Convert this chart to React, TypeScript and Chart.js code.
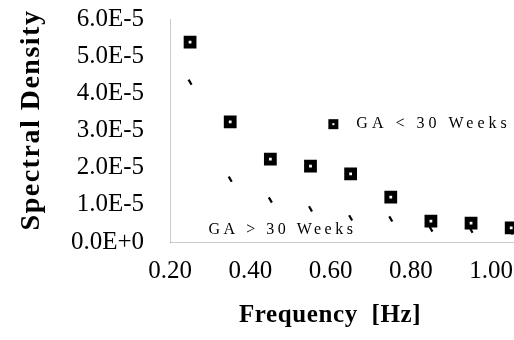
import { useEffect, useRef } from "react";
import { Chart, registerables } from "chart.js";

Chart.register(...registerables);

// Frequency bins [Hz]
const frequencies = [0.25, 0.35, 0.45, 0.55, 0.65, 0.75, 0.85, 0.95, 1.05];
// Spectral density, GA < 30 weeks
const gaUnder30 = [5.38e-5, 3.23e-5, 2.23e-5, 2.04e-5, 1.83e-5, 1.21e-5, 0.56e-5, 0.51e-5, 0.38e-5];
// Spectral density, GA > 30 weeks
const gaOver30 = [4.3e-5, 1.69e-5, 1.13e-5, 0.89e-5, 0.65e-5, 0.62e-5, 0.35e-5, 0.32e-5, 0.27e-5];

const xTickValues = [0.2, 0.4, 0.6, 0.8, 1.0];
const xTickLabels = ["0.20", "0.40", "0.60", "0.80", "1.00"];
const yTickValues = [0, 1e-5, 2e-5, 3e-5, 4e-5, 5e-5, 6e-5];
const yTickLabels = ["0.0E+0", "1.0E-5", "2.0E-5", "3.0E-5", "4.0E-5", "5.0E-5", "6.0E-5"];

const seriesNames = ["GA < 30 Weeks", "GA > 30 Weeks"];
const xTitle = "Frequency  [Hz]";
const yTitle = "Spectral Density";

// label anchors in data units
const labelUnderAnchor = { x: 0.607, y: 3.17e-5 };
const labelOverAnchor = { x: 0.296, y: 0.32e-5 };

const SERIF = "'Liberation Serif', 'Times New Roman', serif";

const annotatePlugin = {
  id: "annotate",
  afterDraw(chart: any) {
    const { ctx, scales } = chart;
    const xs = scales.x;
    const ys = scales.y;
    ctx.save();
    ctx.fillStyle = "#000";
    ctx.strokeStyle = "#000";

    // legend marker for GA < 30
    const mx = xs.getPixelForValue(labelUnderAnchor.x);
    const my = ys.getPixelForValue(labelUnderAnchor.y);
    ctx.lineWidth = 4;
    ctx.fillStyle = "#fff";
    ctx.fillRect(mx - 3, my - 3, 6, 6);
    ctx.strokeRect(mx - 3, my - 3, 6, 6);
    ctx.fillStyle = "#000";

    ctx.font = `16px ${SERIF}`;
    (ctx as any).letterSpacing = "4px";
    ctx.textAlign = "left";
    ctx.textBaseline = "middle";
    ctx.fillText(seriesNames[0], mx + 23, my);

    const ox = xs.getPixelForValue(labelOverAnchor.x);
    const oy = ys.getPixelForValue(labelOverAnchor.y);
    (ctx as any).letterSpacing = "3.5px";
    ctx.fillText(seriesNames[1], ox, oy);

    // axis titles
    (ctx as any).letterSpacing = "1.5px";
    ctx.font = `bold 28px ${SERIF}`;
    ctx.textAlign = "center";
    ctx.save();
    ctx.translate(32, 120);
    ctx.rotate(-Math.PI / 2);
    ctx.fillText(yTitle, 0, 0);
    ctx.restore();

    (ctx as any).letterSpacing = "0.6px";
    ctx.font = `bold 25px ${SERIF}`;
    ctx.fillText(xTitle, 330, 316);
    ctx.restore();
  },
};

export default function App() {
  const ref = useRef<HTMLCanvasElement | null>(null);

  useEffect(() => {
    document.body.style.margin = "0";
    const canvas = ref.current;
    if (!canvas) return;
    const chart = new Chart(canvas, {
      type: "scatter",
      data: {
        datasets: [
          {
            label: seriesNames[0],
            data: frequencies.map((f, i) => ({ x: f, y: gaUnder30[i] })),
            pointStyle: "rect",
            pointRadius: 5.5,
            pointBorderWidth: 5,
            pointBackgroundColor: "#fff",
            pointBorderColor: "#000",
          },
          {
            label: seriesNames[1],
            data: frequencies.map((f, i) => ({ x: f, y: gaOver30[i] })),
            pointStyle: "line",
            pointRotation: 60,
            pointRadius: 3,
            pointBorderWidth: 2.2,
            pointBorderColor: "#000",
            pointBackgroundColor: "#000",
          },
        ],
      },
      options: {
        animation: false,
        responsive: false,
        clip: false as any,
        layout: { autoPadding: false, padding: { top: 19, right: 0, left: 0, bottom: 0 } },
        plugins: { legend: { display: false }, tooltip: { enabled: false } },
        scales: {
          x: {
            type: "linear",
            min: 0.2,
            max: 1.057,
            grid: { display: false, drawTicks: false },
            border: { display: true, color: "rgba(0,0,0,0.2)", dash: [1, 39.1] },
            afterBuildTicks: (s: any) => {
              s.ticks = xTickValues.map((v) => ({ value: v }));
            },
            afterFit: (s: any) => {
              s.height = 98;
              s.paddingLeft = 0;
              s.paddingRight = 0;
            },
            ticks: {
              padding: 14,
              color: "#000",
              maxRotation: 0,
              autoSkip: false,
              font: { family: SERIF, size: 25 },
              callback: (v: any) => {
                const i = xTickValues.findIndex((t) => Math.abs(t - v) < 1e-9);
                return i >= 0 ? xTickLabels[i] : "";
              },
            },
          },
          y: {
            type: "linear",
            min: 0,
            max: 6e-5,
            grid: { display: false, drawTicks: false },
            border: { display: true, color: "rgba(0,0,0,0.2)", dash: [1, 17.6] },
            afterBuildTicks: (s: any) => {
              s.ticks = yTickValues.map((v) => ({ value: v }));
            },
            afterFit: (s: any) => {
              s.width = 170;
              s.paddingTop = 0;
              s.paddingBottom = 0;
            },
            ticks: {
              padding: 26,
              color: "#000",
              autoSkip: false,
              font: { family: SERIF, size: 25 },
              callback: (v: any) => {
                const i = yTickValues.findIndex((t) => Math.abs(t - v) < 1e-12);
                return i >= 0 ? yTickLabels[i] : "";
              },
            },
          },
        },
      },
      plugins: [annotatePlugin],
    });
    return () => chart.destroy();
  }, []);

  return <canvas ref={ref} width={514} height={340} style={{ display: "block" }} />;
}
